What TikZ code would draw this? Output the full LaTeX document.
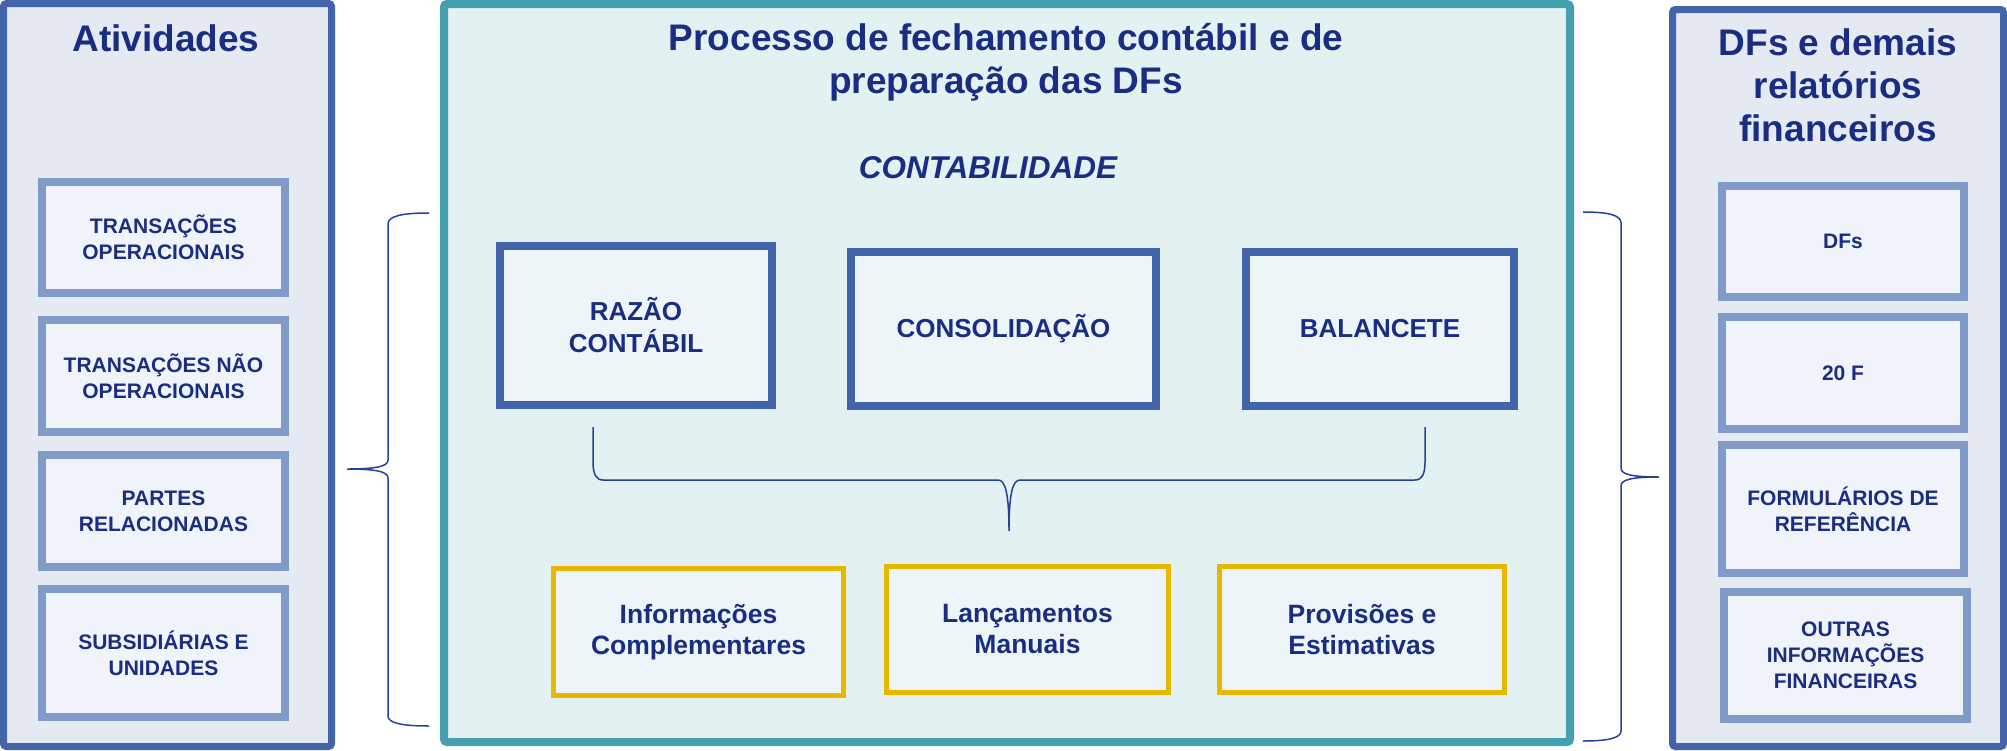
\documentclass[tikz,border=0pt]{standalone}
\usepackage{fontspec}
\setmainfont{Liberation Sans}
\usepackage{tikz}
\usetikzlibrary{positioning}

\definecolor{navy}{RGB}{25,45,130}
\definecolor{panelblue}{RGB}{65,101,168}
\definecolor{panelfill}{RGB}{228,233,242}
\definecolor{itemline}{RGB}{128,155,200}
\definecolor{itemfill}{RGB}{240,243,249}
\definecolor{tealline}{RGB}{66,160,175}
\definecolor{tealfill}{RGB}{227,241,243}
\definecolor{stepfill}{RGB}{237,245,248}
\definecolor{goldline}{RGB}{232,184,0}
\definecolor{braceblue}{RGB}{35,65,155}

\tikzset{
  panel/.style={draw=panelblue, line width=7pt, fill=panelfill, rounded corners=3pt},
  procpanel/.style={draw=tealline, line width=8pt, fill=tealfill, rounded corners=3pt},
  paneltitle/.style={anchor=base, text=navy, align=center, font=\fontsize{37}{43}\selectfont\bfseries},
  itembox/.style={draw=itemline, line width=8pt, fill=itemfill, align=center, text=navy,
    inner sep=0pt, font=\fontsize{21}{26}\selectfont\bfseries},
  ledgerbox/.style={draw=panelblue, line width=7.5pt, fill=stepfill, align=center, text=navy,
    inner sep=0pt, font=\fontsize{26}{32}\selectfont\bfseries},
  extrabox/.style={draw=goldline, line width=5pt, fill=stepfill, align=center, text=navy,
    inner sep=0pt, font=\fontsize{26.5}{31}\selectfont\bfseries},
  curly/.style={draw=braceblue, line width=1.5pt}
}

\begin{document}
\begin{tikzpicture}[x=1pt,y=-1pt]
  \useasboundingbox (0,0) rectangle (2007,750);

  % three columns
  \node[panel, minimum width=328, minimum height=743] (ativ) at (167.5,375) {};
  \node[procpanel, minimum width=1126, minimum height=738] (proc) at (1007,373) {};
  \node[panel, minimum width=331, minimum height=737] (dfs) at (1838,378) {};

  % titles (base = last line)
  \node[paneltitle] (ativtitle) at (166,51) {Atividades};
  \node[paneltitle] (proctitle) at (1006,93) {Processo de fechamento contábil e de\\preparação das DFs};
  \node[paneltitle] (dfstitle) at (1838,141) {DFs e demais\\relatórios\\financeiros};
  \node[anchor=base, text=navy, font=\fontsize{31.5}{36}\selectfont\bfseries\itshape] (contab) at (988,178) {CONTABILIDADE};

  % atividades
  \node[itembox, minimum width=243, minimum height=111] (oper) at (163.5,237.5) {TRANSAÇÕES\\OPERACIONAIS};
  \node[itembox, minimum width=243, minimum height=112] (naooper) at (163.5,376) {TRANSAÇÕES NÃO\\OPERACIONAIS};
  \node[itembox, minimum width=243, minimum height=112] (partes) at (163.5,511) {PARTES\\RELACIONADAS};
  \node[itembox, minimum width=243, minimum height=128] (subs) at (163.5,653) {SUBSIDIÁRIAS E\\UNIDADES};

  % contabilidade
  \node[ledgerbox, minimum width=272, minimum height=159] (razao) at (636,325.5) {RAZÃO\\CONTÁBIL};
  \node[ledgerbox, minimum width=305, minimum height=154] (consol) at (1003.5,329) {CONSOLIDAÇÃO};
  \node[ledgerbox, minimum width=268, minimum height=154] (balanc) at (1380,329) {BALANCETE};

  \node[extrabox, minimum width=290, minimum height=127] (compl) at (698.5,632) {Informações\\Complementares};
  \node[extrabox, minimum width=282, minimum height=126] (manuais) at (1027.5,629.5) {Lançamentos\\Manuais};
  \node[extrabox, minimum width=285, minimum height=126] (provis) at (1362,629.5) {Provisões e\\Estimativas};

  % DFs
  \node[itembox, minimum width=242, minimum height=111] (dfsbox) at (1843,241.5) {DFs};
  \node[itembox, minimum width=242, minimum height=112] (vintef) at (1843,373) {20 F};
  \node[itembox, minimum width=242, minimum height=128] (formref) at (1843,509) {FORMULÁRIOS DE\\REFERÊNCIA};
  \node[itembox, minimum width=243, minimum height=127] (outras) at (1845.5,655.5) {OUTRAS\\INFORMAÇÕES\\FINANCEIRAS};

  % braces
  \draw[curly] (429,213) .. controls (402,213) and (388,216) .. (388,224) -- (388,460)
    .. controls (388,466) and (378,469) .. (347,469)
    .. controls (378,469) and (388,472) .. (388,478) -- (388,716)
    .. controls (388,723) and (402,726) .. (429,726);
  \draw[curly] (1583,212) .. controls (1608,212) and (1621,215) .. (1621,223) -- (1621,468)
    .. controls (1621,474) and (1630,477) .. (1659,477)
    .. controls (1630,477) and (1621,480) .. (1621,486) -- (1621,731)
    .. controls (1621,738) and (1608,741) .. (1583,741);
  \draw[curly] (593,427) -- (593,462) .. controls (593,474) and (596,480) .. (603,480) -- (998,480)
    .. controls (1005,480) and (1009,492) .. (1009,531)
    .. controls (1009,492) and (1013,480) .. (1020,480) -- (1415,480)
    .. controls (1422,480) and (1425,474) .. (1425,462) -- (1425,427);
\end{tikzpicture}
\end{document}
